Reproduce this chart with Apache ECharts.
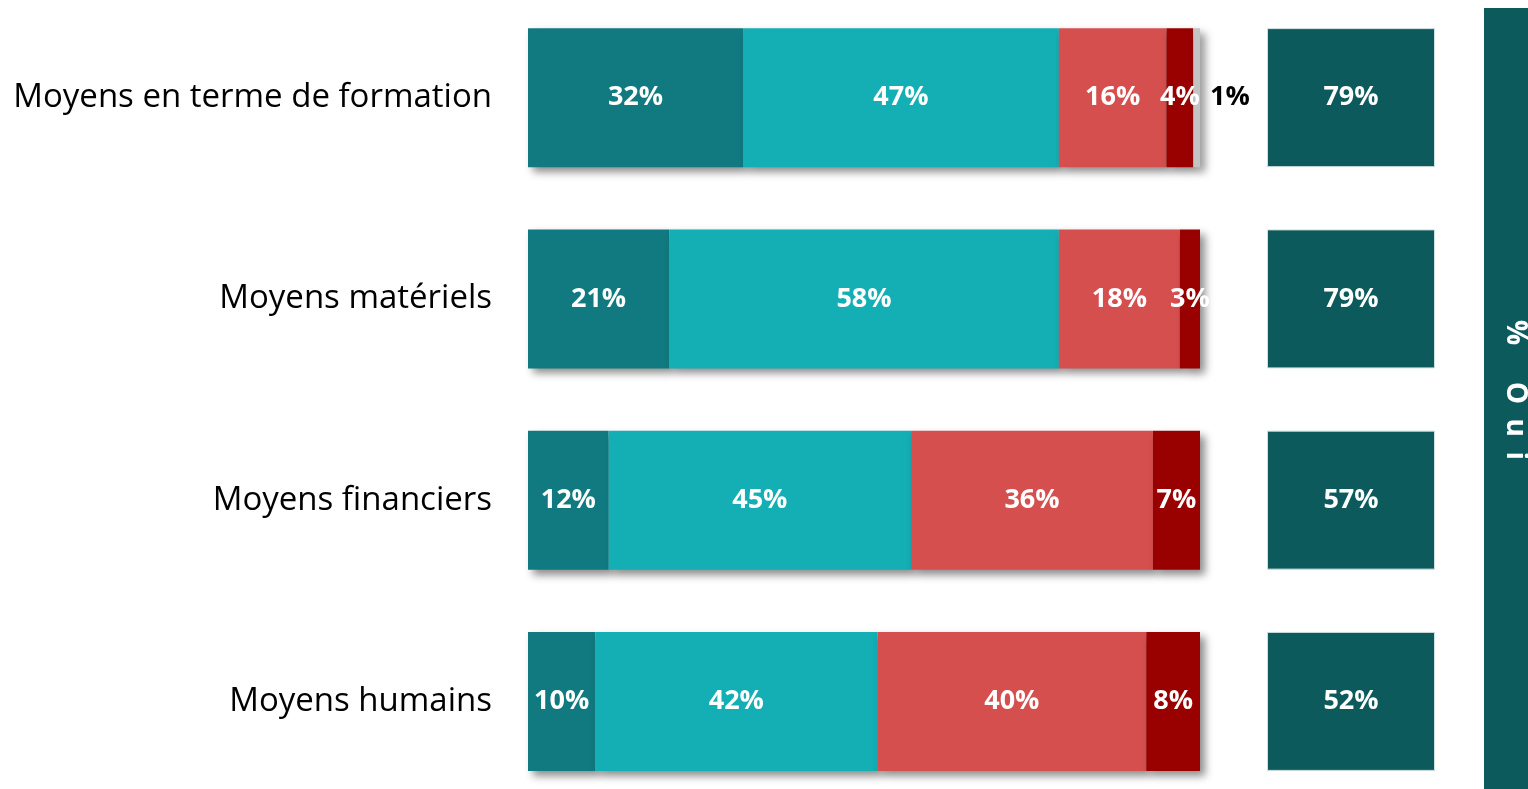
<!DOCTYPE html>
<html>
<head>
<meta charset="utf-8">
<script src="https://cdn.jsdelivr.net/npm/echarts@6/dist/echarts.min.js"></script>
<style>
  html, body { margin: 0; padding: 0; background: #fff; }
  #chart { width: 1528px; height: 789px; }
</style>
</head>
<body>
<div id="chart"></div>
<script>
const categories = ['Moyens en terme de formation', 'Moyens matériels', 'Moyens financiers', 'Moyens humains']
const serie1 = [32, 21, 12, 10]
const serie2 = [47, 58, 45, 42]
const serie3 = [16, 18, 36, 40]
const serie4 = [4, 3, 7, 8]
const serie5 = [1, 0, 0, 0]
const oui = [79, 79, 57, 52]
const ouiTitle = '%     O  u  i'

const colors = ['#107a80', '#14aeb5', '#d64f4f', '#990000', '#c3c3c3']
const dark = '#0d5a5c'
const font = '"Open Sans", "Noto Sans", sans-serif'

const chart = echarts.init(document.getElementById('chart'))

function seg(data, i) {
  return {
    type: 'bar', stack: 'total', data, barWidth: 139,
    xAxisIndex: 0, yAxisIndex: 0,
    itemStyle: {
      color: colors[i],
      shadowColor: 'rgba(0,0,0,0.45)', shadowBlur: 8, shadowOffsetX: 5, shadowOffsetY: 5
    },
    label: {
      show: true,
      position: i === 4 ? 'right' : 'inside',
      distance: 10,
      color: i === 4 ? '#000' : '#fff',
      fontFamily: font, fontWeight: 'bold', fontSize: 27,
      formatter: p => p.value ? p.value + '%' : ''
    }
  }
}

chart.setOption({
  animation: false,
  grid: [
    { left: 528, width: 672, top: -3, bottom: -13, outerBoundsMode: 'none' },
    { left: 1267, width: 168, top: -3, bottom: -13, outerBoundsMode: 'none' }
  ],
  xAxis: [
    { gridIndex: 0, type: 'value', min: 0, max: 100, show: false },
    { gridIndex: 1, type: 'value', min: 0, max: 1, show: false }
  ],
  yAxis: [
    {
      gridIndex: 0, type: 'category', data: categories, inverse: true,
      axisLine: { show: false }, axisTick: { show: false },
      axisLabel: { margin: 36, color: '#000', fontSize: 33, fontFamily: font }
    },
    { gridIndex: 1, type: 'category', data: categories, inverse: true, show: false }
  ],
  series: [
    seg(serie1, 0), seg(serie2, 1), seg(serie3, 2), seg(serie4, 3), seg(serie5, 4),
    {
      type: 'bar', xAxisIndex: 1, yAxisIndex: 1, barWidth: 139,
      data: oui.map(() => 1),
      itemStyle: { color: dark, borderColor: '#cfe0e0', borderWidth: 1 },
      label: {
        show: true, position: 'inside', color: '#fff',
        fontFamily: font, fontWeight: 'bold', fontSize: 27,
        formatter: p => oui[p.dataIndex] + '%'
      }
    }
  ],
  graphic: [
    { type: 'rect', shape: { x: 1484, y: 8, width: 44, height: 781 }, style: { fill: dark } },
    {
      type: 'text', x: 1515, y: 390, rotation: -Math.PI / 2,
      style: {
        text: ouiTitle, fill: '#fff', font: 'bold 28px ' + font,
        align: 'center', verticalAlign: 'middle'
      }
    }
  ]
})
</script>
</body>
</html>
